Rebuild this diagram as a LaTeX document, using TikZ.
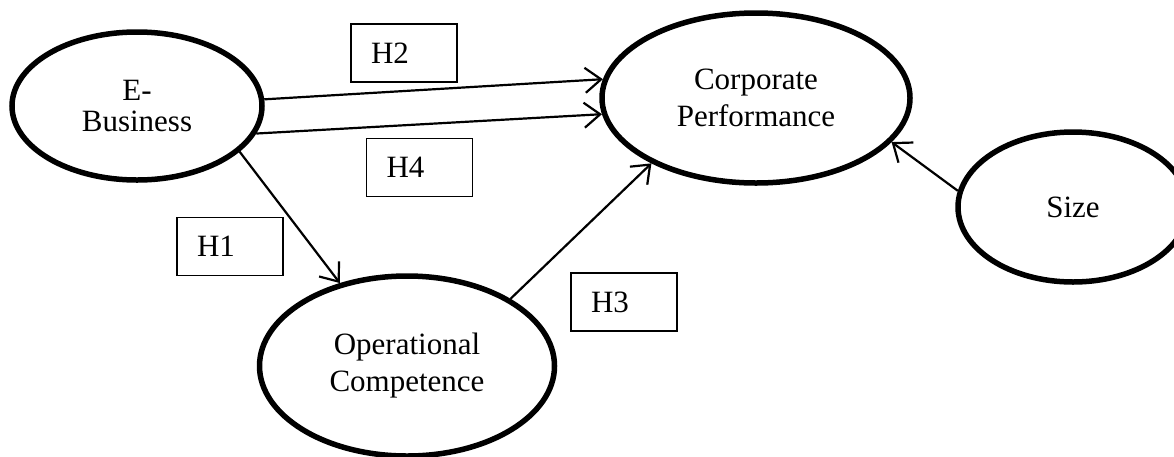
\documentclass[tikz,border=0pt]{standalone}
\usepackage{fontspec}
\setmainfont{Liberation Serif}
\usetikzlibrary{shapes.geometric, arrows.meta}
\begin{document}
\begin{tikzpicture}[x=1pt,y=-1pt,
  latent/.style={ellipse, draw, line width=5.5pt, inner sep=0pt, align=center, font=\fontsize{31}{37}\selectfont},
  hyp/.style={rectangle, draw, line width=1.8pt, minimum width=106pt, minimum height=58pt, text width=66pt, inner xsep=20pt, inner ysep=0pt, align=left, font=\fontsize{31}{37}\selectfont},
  conn/.style={line width=2.2pt, -{Straight Barb[length=16pt,width=25pt,line width=2.2pt]}}]
\useasboundingbox (0,0) rectangle (1174,456);
\clip (0,0) rectangle (1174,456);
\node[latent, minimum width=250pt, minimum height=148pt, font=\fontsize{31}{31}\selectfont] (eb) at (137,106) {E-\\Business};
\node[latent, minimum width=308pt, minimum height=170pt] (cp) at (756,98) {Corporate\\Performance};
\node[latent, minimum width=230pt, minimum height=150pt] (sz) at (1073,207) {Size};
\node[latent, minimum width=295pt, minimum height=180pt] (oc) at (407,366) {Operational\\Competence};
\node[hyp] (h2) at (404,53) {H2};
\node[hyp] (h4) at (419.5,167.5) {H4};
\node[hyp] (h1) at (230,246.5) {H1};
\node[hyp] (h3) at (624,302) {H3};
\draw[conn] (eb.3.7) -- (cp.173.4);
\draw[conn] (eb.-13.2) -- (cp.186.5);
\draw[conn] (eb.-24.7) -- (oc.129.7);
\draw[conn] (oc.33.8) -- (cp.212.8);
\draw[conn] (sz.172) -- (cp.-18.2);
\end{tikzpicture}
\end{document}
